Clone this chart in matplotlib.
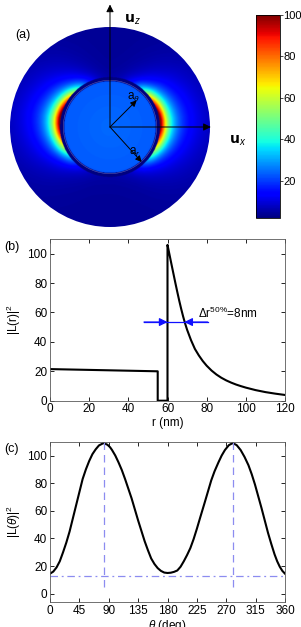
import numpy as np
import matplotlib.pyplot as plt
from matplotlib.patches import Circle

plt.rcParams['font.family'] = ['Liberation Sans', 'DejaVu Sans']
plt.rcParams['mathtext.fontset'] = 'custom'
plt.rcParams['mathtext.rm'] = 'Liberation Sans'
plt.rcParams['mathtext.it'] = 'Liberation Sans:italic'

# (b) radial profile |L(r)|^2 along the hot-spot direction
r_nm = [0, 55, 55, 60, 60, 61, 62, 63, 64, 65, 66, 67, 68, 69, 70, 72, 74, 76, 78,
        80, 82.5, 85, 87.5, 90, 92.5, 95, 97.5, 100, 105, 110, 115, 120]
L_r = [21.5, 20, 0, 0, 106, 99.5, 93, 86.6, 80.2, 74, 68, 62.4, 57.2, 52.5, 48.3, 41.2,
       35.2, 30.8, 27, 23.8, 20.5, 17.8, 15.6, 13.8, 12.3, 11, 9.9, 8.9, 7.2, 5.85, 4.8, 3.9]

# (c) angular profile |L(theta)|^2 at the particle surface
theta_deg = [0, 5, 10, 15, 20, 25, 30, 35, 40, 45, 50, 55, 60, 65, 70, 75, 82, 88, 92,
             95, 100, 105, 110, 115, 120, 125, 130, 135, 140, 145, 150, 155, 160, 165,
             170, 175, 180, 185, 190, 195, 200, 205, 210, 215, 220, 225, 230, 237, 242,
             247, 252, 258, 263, 268, 274, 280, 286, 292, 298, 304, 309, 314, 319, 324,
             329, 334, 339, 344, 348, 352, 356, 360]
L_theta = [14.5, 16, 19, 23.5, 30, 37, 45, 54.5, 64, 73.5, 83, 90, 96, 101, 104.5, 107.3,
           109, 107.8, 106, 104, 100, 95, 89.5, 83, 76, 69, 61, 53, 45.5, 38, 31.5, 25.5,
           21.5, 18.5, 16.5, 15.3, 15, 15.2, 15.8, 16.8, 19.5, 23.5, 28, 33, 39.5, 47, 55,
           66, 74, 82, 88.5, 95, 100, 104, 107.5, 109, 107.5, 104, 99, 93, 86.5, 79, 70.5,
           62, 53, 44, 36, 28.5, 23.5, 19.5, 16.5, 14.5]
peak_theta = [82, 280]
base_level = 12.5

W, H = 301, 627
fig = plt.figure(figsize=(W / 100, H / 100), dpi=100)


def px_axes(left, top, right, bottom):
    return fig.add_axes([left / W, 1 - bottom / H, (right - left) / W, (bottom - top) / H])


def style(ax):
    ax.tick_params(direction='in', top=True, right=True, length=3, width=0.6,
                   labelsize=8.5, pad=2)
    for s in ax.spines.values():
        s.set_linewidth(0.6)
        s.set_color('0.35')


# ---- (a) field map built from the two measured profiles
ax0 = px_axes(0, 0, 240, 240)
ax0.set_xlim(-132, 156)
ax0.set_ylim(-135.6, 152.4)
ax0.axis('off')

x = np.linspace(-121, 121, 500)
X, Z = np.meshgrid(x, x)
R = np.hypot(X, Z)
TH = np.degrees(np.arctan2(X, Z)) % 360
r_arr = np.array(r_nm)
Lr_arr = np.array(L_r)
core = np.interp(R, r_arr[:2], Lr_arr[:2]) + 3
ang = np.interp(TH, theta_deg, L_theta) / max(L_theta)
outer = np.interp(R, r_arr[4:], Lr_arr[4:]) * ang ** 2.2 + 4
field = np.where(R < 55, core, np.where(R < 60, 2.0, outer))
im = ax0.imshow(field, extent=[-121, 121, -121, 121], origin='lower', cmap='jet',
                vmin=2, vmax=100, interpolation='bilinear')
im.set_clip_path(Circle((0, 0), 120, transform=ax0.transData))
ax0.add_patch(Circle((0, 0), 56, fill=False, ec='white', lw=0.4, alpha=0.35))

arw = dict(arrowstyle='-|>', color='k', lw=0.7, mutation_scale=11, shrinkA=0, shrinkB=0)
ax0.annotate('', xy=(0, 147), xytext=(0, 0), arrowprops=arw)
ax0.annotate('', xy=(121, 0), xytext=(0, 0), arrowprops=arw)
ax0.annotate('', xy=(32, 32), xytext=(0, 0), arrowprops=dict(arw, mutation_scale=9))
ax0.annotate('', xy=(38, -42), xytext=(0, 0), arrowprops=dict(arw, mutation_scale=9))
ax0.text(17, 125, r'$\mathbf{u}_z$', fontsize=10)
ax0.text(143, -20, r'$\mathbf{u}_x$', fontsize=10)
ax0.text(20, 33, r'a$_\theta$', fontsize=8.5)
ax0.text(23, -33, r'a$_r$', fontsize=8.5)
ax0.text(-114, 107, '(a)', fontsize=9)

cax = px_axes(256, 15, 280, 218)
cb = fig.colorbar(im, cax=cax, ticks=[20, 40, 60, 80, 100])
cb.ax.tick_params(labelsize=8, length=2, width=0.5, pad=0.5)
cb.outline.set_linewidth(0.6)

# ---- (b) radial profile
ax1 = px_axes(50, 239, 285, 400.7)
ax1.plot(r_nm, L_r, color='k', lw=1.5)
ax1.set_xlim(0, 120)
ax1.set_ylim(0, 110)
ax1.set_xticks(range(0, 121, 20))
ax1.set_yticks(range(0, 101, 20))
style(ax1)
ax1.set_xlabel('r (nm)', fontsize=8.5, labelpad=1)
ax1.set_ylabel(r'|L(r)|$^2$', fontsize=8.5, labelpad=3)
half = 53.5
ax1.plot([48, 80.5], [half, half], color='#1010ff', lw=0.9)
barw = dict(arrowstyle='-|>', color='#1010ff', lw=0.9, mutation_scale=12, shrinkA=0, shrinkB=0)
ax1.annotate('', xy=(60, half), xytext=(48, half), arrowprops=barw)
ax1.annotate('', xy=(68.6, half), xytext=(80.5, half), arrowprops=barw)
ax1.text(75.5, 56, r'$\Delta$r$^{50\%}$=8nm', fontsize=8.5)
fig.text(4 / W, 1 - 250 / H, '(b)', fontsize=9)

# ---- (c) angular profile
ax2 = px_axes(50, 441.7, 285, 602)
ax2.plot(theta_deg, L_theta, color='k', lw=1.5)
for p in peak_theta:
    ax2.plot([p, p], [5, 110], color='#8c8cf0', lw=0.9, ls=(0, (6, 4)))
ax2.axhline(base_level, color='#8c8cf0', lw=0.9, ls=(0, (6, 3, 1.5, 3)))
ax2.set_xlim(0, 360)
ax2.set_ylim(-6, 110)
ax2.set_xticks(range(0, 361, 45))
ax2.set_yticks(range(0, 101, 20))
style(ax2)
ax2.set_xlabel(r'$\theta$ (deg)', fontsize=8.5, labelpad=1)
ax2.set_ylabel(r'|L($\theta$)|$^2$', fontsize=8.5, labelpad=3)
fig.text(4 / W, 1 - 452 / H, '(c)', fontsize=9)

fig.savefig('out.png', dpi=100)
